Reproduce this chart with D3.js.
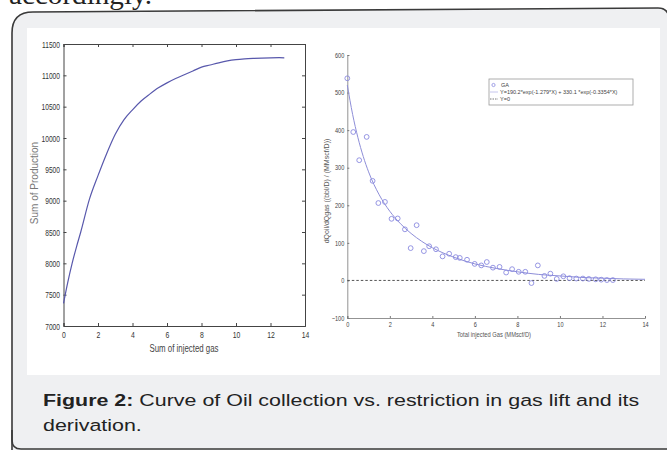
<!DOCTYPE html>
<html><head><meta charset="utf-8">
<script src="https://cdn.jsdelivr.net/npm/d3@7"></script>
<style>
html,body{margin:0;padding:0;background:#fff;overflow:hidden;}
svg{display:block;}
</style></head>
<body>
<svg id="c" width="667" height="450"></svg>
<script>
// ---------- data ----------
const leftX = [0, 0.25, 0.5, 0.75, 1, 1.5, 2, 2.5, 3, 3.5, 4, 4.5, 5, 5.5, 6, 6.5, 7, 7.5, 8, 8.5, 9, 9.5, 10, 10.5, 11, 11.5, 12, 12.5, 12.8];
const leftY = [7360, 7700, 8000, 8260, 8500, 9020, 9400, 9750, 10060, 10290, 10450, 10590, 10700, 10800, 10880, 10950, 11010, 11070, 11130, 11165, 11200, 11230, 11250, 11262, 11270, 11276, 11280, 11282, 11280];
const leftXTicks = [0, 2, 4, 6, 8, 10, 12, 14];
const leftYTicks = [7000, 7500, 8000, 8500, 9000, 9500, 10000, 10500, 11000, 11500];

const gaX = [0, 0.28, 0.56, 0.91, 1.19, 1.46, 1.77, 2.08, 2.37, 2.71, 2.98, 3.26, 3.6, 3.85, 4.17, 4.48, 4.79, 5.1, 5.29, 5.63, 5.99, 6.3, 6.56, 6.85, 7.16, 7.47, 7.75, 8.06, 8.37, 8.66, 8.96, 9.27, 9.55, 9.85, 10.16, 10.45, 10.77, 11.08, 11.36, 11.68, 11.94, 12.21, 12.49];
const gaY = [538, 395, 320, 382, 265, 206, 209, 164, 165, 136, 86, 147, 78, 91, 83, 64, 71, 62, 60, 55, 44, 40, 49, 34, 36, 21, 30, 23, 23, -7, 40, 12, 18, 4, 11, 6, 5, 5, 4, 3, 2, 1, 1];
const fitX = [0, 0.25, 0.5, 0.75, 1, 1.5, 2, 2.5, 3, 3.5, 4, 5, 6, 7, 8, 9, 10, 11, 12, 13, 14];
const fitY = [520, 442, 380, 330, 289, 228, 184, 151, 125, 104, 87, 62, 44, 32, 23, 16, 12, 8, 6, 4, 3];
const rightXTicks = [0, 2, 4, 6, 8, 10, 12, 14];
const rightYTicks = [-100, 0, 100, 200, 300, 400, 500, 600];
const legendLabels = ["GA", "Y=190.2*exp(-1.279*X) + 330.1 *exp(-0.3354*X)", "Y=0"];

// ---------- drawing ----------
const svg = d3.select("#c");
const sans = "Liberation Sans, Arial, sans-serif";

svg.append("text").attr("transform", "translate(9,4) scale(1.08,1)")
  .attr("font-family", "Liberation Serif, serif").attr("font-size", 27).attr("fill", "#222")
  .text("accordingly.");

// outer rounded box
svg.append("path")
  .attr("d", "M12,470 L12,33 Q12,12 33,12 L658,8 Q668,8 669,18 L669,470 Z")
  .attr("fill", "#eff0f2").attr("stroke", "#3a3a3a").attr("stroke-width", 1.6);
svg.append("path")
  .attr("d", "M12,430 L12,440 Q12,449 21,449 L680,449")
  .attr("fill", "none").attr("stroke", "#3a3a3a").attr("stroke-width", 1.6);
svg.append("rect").attr("x", 27).attr("y", 28).attr("width", 633).attr("height", 347).attr("fill", "#fff");

function squeeze(sel, k) {
  sel.each(function () {
    const t = d3.select(this);
    const x = +t.attr("x") || 0;
    t.attr("x", x / k).attr("transform", `scale(${k},1)`);
  });
}

// ---------- left chart ----------
const lx = d3.scaleLinear().domain([0, 14]).range([63.5, 305]);
const ly = d3.scaleLinear().domain([7000, 11500]).range([326, 44]);
const L = svg.append("g");

const axB = L.append("g").attr("transform", `translate(0,${ly(7000)})`)
  .call(d3.axisBottom(lx).tickValues(leftXTicks).tickSize(-3).tickPadding(5).tickFormat(d3.format("d")));
const axL = L.append("g").attr("transform", `translate(${lx(0)},0)`)
  .call(d3.axisLeft(ly).tickValues(leftYTicks).tickSize(-3).tickPadding(3.5).tickFormat(d3.format("d")));
const axT = L.append("g").attr("transform", `translate(0,${ly(11500)})`)
  .call(d3.axisTop(lx).tickValues(leftXTicks).tickSize(-3).tickFormat(""));
const axR = L.append("g").attr("transform", `translate(${lx(14)},0)`)
  .call(d3.axisRight(ly).tickValues(leftYTicks).tickSize(-3).tickFormat(""));
[axB, axL, axT, axR].forEach(a => {
  a.select(".domain").attr("stroke", "#444").attr("stroke-width", 1);
  a.selectAll(".tick line").attr("stroke", "#444");
  a.selectAll("text").attr("font-family", sans).attr("font-size", 9.5).attr("fill", "#333");
});
squeeze(axB.selectAll("text"), 0.72);
squeeze(axL.selectAll("text"), 0.7);
L.append("path").datum(leftX.map((x, i) => [x, leftY[i]]))
  .attr("d", d3.line().x(d => lx(d[0])).y(d => ly(d[1])).curve(d3.curveMonotoneX))
  .attr("fill", "none").attr("stroke", "#5858ac").attr("stroke-width", 1.2);
L.append("text").attr("transform", "translate(184,352) scale(0.75,1)").attr("text-anchor", "middle")
  .attr("font-family", sans).attr("font-size", 10.5).attr("fill", "#444").text("Sum of injected gas");
L.append("text").attr("transform", "translate(38,183) rotate(-90)").attr("text-anchor", "middle")
  .attr("font-family", sans).attr("font-size", 10).attr("fill", "#777").text("Sum of Production");

// ---------- right chart ----------
const rx = d3.scaleLinear().domain([0, 14]).range([347.3, 645]);
const ry = d3.scaleLinear().domain([-100, 600]).range([318, 55]);
const R = svg.append("g");
const rB = R.append("g").attr("transform", `translate(0,${ry(-100)})`)
  .call(d3.axisBottom(rx).tickValues(rightXTicks).tickSize(-2).tickPadding(4).tickFormat(d3.format("d")));
const rL = R.append("g").attr("transform", `translate(${rx(0)},0)`)
  .call(d3.axisLeft(ry).tickValues(rightYTicks).tickSize(-2).tickPadding(3).tickFormat(d3.format("d")));
[rB, rL].forEach(a => {
  a.select(".domain").attr("stroke", "#777").attr("stroke-width", 0.8);
  a.selectAll(".tick line").attr("stroke", "#777");
  a.selectAll("text").attr("font-family", sans).attr("font-size", 7).attr("fill", "#444");
});
squeeze(rB.selectAll("text"), 0.8);
squeeze(rL.selectAll("text"), 0.8);
// Y=0 dashed
R.append("line").attr("x1", rx(0)).attr("x2", rx(14)).attr("y1", ry(0)).attr("y2", ry(0))
  .attr("stroke", "#555").attr("stroke-width", 1).attr("stroke-dasharray", "2.5,2");
// fit curve
R.append("path").datum(fitX.map((x, i) => [x, fitY[i]]))
  .attr("d", d3.line().x(d => rx(d[0])).y(d => ry(d[1])).curve(d3.curveMonotoneX))
  .attr("fill", "none").attr("stroke", "#8e8ed8").attr("stroke-width", 1);
// points
R.append("g").selectAll("circle").data(gaX.map((x, i) => [x, gaY[i]])).join("circle")
  .attr("cx", d => rx(d[0])).attr("cy", d => ry(d[1])).attr("r", 2.4)
  .attr("fill", "none").attr("stroke", "#8a8ae0").attr("stroke-width", 0.9);
R.append("text").attr("transform", "translate(494,337) scale(0.85,1)").attr("text-anchor", "middle")
  .attr("font-family", sans).attr("font-size", 6.8).attr("fill", "#555").text("Total injected Gas (MMscf/D)");
R.append("text").attr("transform", "translate(329,191) rotate(-90)").attr("text-anchor", "middle")
  .attr("font-family", sans).attr("font-size", 7).attr("fill", "#555").text("dQoil/dQgas ((bbl/D) / (MMscf/D))");

// legend
const lg = R.append("g");
lg.append("rect").attr("x", 489).attr("y", 79).attr("width", 144).attr("height", 26)
  .attr("fill", "#fff").attr("stroke", "#999").attr("stroke-width", 0.8);
lg.append("circle").attr("cx", 493.5).attr("cy", 85).attr("r", 1.6).attr("fill", "none").attr("stroke", "#8a8ae0").attr("stroke-width", 0.8);
lg.append("line").attr("x1", 490).attr("x2", 498).attr("y1", 92).attr("y2", 92).attr("stroke", "#b8b8e8").attr("stroke-width", 0.8);
lg.append("line").attr("x1", 490).attr("x2", 498).attr("y1", 99).attr("y2", 99).attr("stroke", "#555").attr("stroke-width", 0.8).attr("stroke-dasharray", "1.5,1");
lg.selectAll("text.l").data(legendLabels).join("text").attr("class", "l")
  .attr("x", (d, i) => i === 0 ? 501 : 500).attr("y", (d, i) => 87 + i * 7)
  .attr("font-family", sans).attr("font-size", 5.5).attr("fill", "#444").text(d => d);

// caption
const cap = svg.append("text").attr("transform", "translate(43,406) scale(1.26,1)")
  .attr("font-family", sans).attr("font-size", 17).attr("fill", "#222");
cap.append("tspan").attr("font-weight", "bold").text("Figure 2:");
cap.append("tspan").text(" Curve of Oil collection vs. restriction in gas lift and its");
svg.append("text").attr("transform", "translate(43,431) scale(1.26,1)")
  .attr("font-family", sans).attr("font-size", 17).attr("fill", "#222")
  .text("derivation.");
</script>
</body></html>
